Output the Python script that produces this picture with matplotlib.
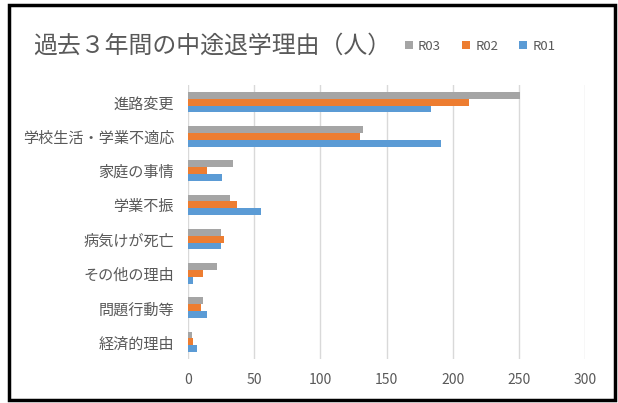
import numpy as np
import matplotlib
matplotlib.use("Agg")
import matplotlib.pyplot as plt
from matplotlib.patches import Rectangle

plt.rcParams['font.family'] = ['Noto Sans CJK JP', 'DejaVu Sans']

categories = ["進路変更", "学校生活・学業不適応", "家庭の事情", "学業不振",
              "病気けが死亡", "その他の理由", "問題行動等", "経済的理由"]
r03 = [251, 132, 34, 32, 25, 22, 11, 3]
r02 = [212, 130, 14, 37, 27, 11, 10, 4]
r01 = [184, 191, 26, 55, 25, 4, 14, 7]
series = [("R03", r03, "#A5A5A5"), ("R02", r02, "#ED7D31"), ("R01", r01, "#5B9BD5")]
xticks = [0, 50, 100, 150, 200, 250, 300]

fig = plt.figure(figsize=(6.18, 4.03), dpi=100)
ax = fig.add_axes([188 / 618, 1 - 359 / 403, (585 - 188) / 618, (359 - 85) / 403])

y = np.arange(len(categories))
h = 0.2
for i, (name, vals, col) in enumerate(series):
    ax.barh(y + (i - 1) * h, vals, height=h, color=col, label=name, zorder=3)

ax.set_xlim(0, 300)
ax.set_ylim(len(categories) - 0.5, -0.5)
ax.set_xticks(xticks)
ax.set_yticks(y)
ax.set_yticklabels(categories, fontsize=10.9, color="#595959")
ax.tick_params(axis="x", labelsize=10, colors="#595959", length=0, pad=10)
ax.tick_params(axis="y", length=0, pad=10)
ax.grid(axis="x", color="#D9D9D9", linewidth=1, zorder=0)
for s in ax.spines.values():
    s.set_visible(False)

fig.text(33 / 618, 1 - 46 / 403, "過去３年間の中途退学理由（人）", fontsize=17.2,
         color="#595959", va="center", ha="left")

# legend: square markers + labels in one row
leg = fig.legend(handles=ax.get_legend_handles_labels()[0], loc="center left",
                 bbox_to_anchor=(393 / 618, 1 - 46 / 403), ncol=3, frameon=False,
                 fontsize=9.5, handlelength=0.6, handleheight=0.6, columnspacing=1.6,
                 handletextpad=0.4)
for t in leg.get_texts():
    t.set_color("#595959")

fig.patches.append(Rectangle((9 / 618, 1 - 400 / 403), 606 / 618, 395 / 403,
                             transform=fig.transFigure, fill=False,
                             edgecolor="black", linewidth=2.5))

fig.savefig("out.png", dpi=100)
